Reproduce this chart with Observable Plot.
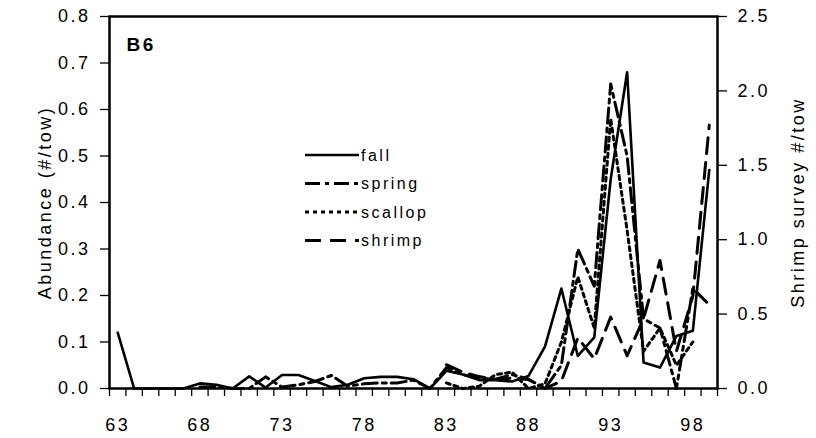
<!DOCTYPE html>
<html>
<head>
<meta charset="utf-8">
<script src="https://cdn.jsdelivr.net/npm/d3@7"></script>
<script src="https://cdn.jsdelivr.net/npm/@observablehq/plot@0.6"></script>
<style>
  html, body { margin: 0; padding: 0; background: white; }
  #wrap { position: relative; width: 816px; height: 438px; }
  #wrap svg text { letter-spacing: 2.5px; }
  #legend { position: absolute; left: 0; top: 0; }
</style>
</head>
<body>
<div id="wrap"></div>
<script>
// ---- data ----
const years = [63,64,65,66,67,68,69,70,71,72,73,74,75,76,77,78,79,80,81,82,83,84,85,86,87,88,89,90,91,92,93,94,95,96,97,98,99];
const fall  = [0.12,0,0,0,0,0.011,0.008,0,0.026,0.002,0.029,0.029,0.016,0.003,0.008,0.022,0.025,0.025,0.02,0,0.038,0.03,0.018,0.018,0.015,0.027,0.09,0.215,0.07,0.11,0.45,0.68,0.056,0.045,0.113,0.124,0.47];

const springYears = [68,69,70,71,72,73,74,75,76,77,78,79,80,81,82,83,84,85,86,87,88,89,90,91,92,93,94,95,96,97,98,99];
const spring = [0.003,0.004,0,0,0.025,0.003,0.008,0.015,0.028,0.005,0.01,0.012,0.012,0.018,0,0.045,0.03,0.022,0.02,0.03,0.02,0.0,0.05,0.30,0.22,0.655,0.5,0.15,0.13,0.0,0.215,0.18];

const scallopYears = [83,84,85,86,87,88,89,90,91,92,93,94,95,96,97,98];
const scallop = [0.012,0,0.005,0.03,0.035,0,0.01,0.1,0.24,0.13,0.58,0.34,0.08,0.13,0.05,0.1];

const shrimpYears = [83,84,85,86,87,88,89,90,91,92,93,94,95,96,97,98,99];
const shrimp = [0.16,0.11,0.08,0.06,0.07,0.06,0,0.05,0.34,0.2,0.48,0.22,0.47,0.86,0.25,0.62,1.77];

const xLabelYears = [63,68,73,78,83,88,93,98];
const leftTicks = [0,0.1,0.2,0.3,0.4,0.5,0.6,0.7,0.8];
const rightTicks = [0,0.5,1.0,1.5,2.0,2.5];
const leftMax = 0.8, rightMax = 2.5;
const ratio = rightMax / leftMax;

const seriesNames = ["fall","spring","scallop","shrimp"];
const seriesDash = {fall: null, spring: "15,5,4,5", scallop: "4,4", shrimp: "16,9"};

// ---- tables built from the arrays ----
const toRows = (ys, vs) => ys.map((y, i) => ({year: y, v: vs[i]}));
const fallRows = toRows(years, fall);
const springRows = toRows(springYears, spring);
const scallopRows = toRows(scallopYears, scallop);
const shrimpRows = toRows(shrimpYears, shrimp);
const boundaries = d3.range(years[0] - 0.5, years[years.length - 1] + 1, 1);

const chart = Plot.plot({
  width: 816,
  height: 438,
  marginLeft: 109,
  marginRight: 99,
  marginTop: 16,
  marginBottom: 50,
  style: {fontFamily: "Liberation Sans, Arial, sans-serif", fontSize: "18px", background: "white", color: "black", overflow: "visible"},
  x: {domain: [years[0] - 0.5, years[years.length - 1] + 0.5]},
  y: {domain: [0, leftMax]},
  marks: [
    Plot.axisX({ticks: boundaries, tickSize: 8, tickFormat: () => "", strokeWidth: 1.3, label: null}),
    Plot.axisX({ticks: xLabelYears, tickSize: 0, tickPadding: 30, tickFormat: d => String(d), label: null}),
    Plot.axisY({ticks: leftTicks, tickSize: 9, tickPadding: 10, strokeWidth: 1.3, tickFormat: d => d.toFixed(1),
      label: "Abundance (#/tow)", labelAnchor: "center", labelArrow: "none", labelOffset: 71}),
    Plot.axisY({anchor: "right", ticks: rightTicks.map(v => v / ratio), tickSize: 9, tickPadding: 11, strokeWidth: 1.3,
      tickFormat: d => (d * ratio).toFixed(1),
      label: "Shrimp survey #/tow", labelAnchor: "center", labelArrow: "none", labelOffset: 86}),
    Plot.frame({stroke: "black", strokeWidth: 2.5}),
    Plot.lineY(fallRows, {x: "year", y: "v", stroke: "black", strokeWidth: 2.6}),
    Plot.lineY(springRows, {x: "year", y: "v", stroke: "black", strokeWidth: 3, strokeDasharray: seriesDash.spring}),
    Plot.lineY(scallopRows, {x: "year", y: "v", stroke: "black", strokeWidth: 3, strokeDasharray: seriesDash.scallop}),
    Plot.lineY(shrimpRows, {x: "year", y: d => d.v / ratio, stroke: "black", strokeWidth: 3, strokeDasharray: seriesDash.shrimp}),
    Plot.text(["B6"], {frameAnchor: "top-left", dx: 17, dy: 28, textAnchor: "start", lineAnchor: "middle", fontWeight: "bold", fontSize: 19})
  ]
});
const wrap = document.getElementById("wrap");
wrap.appendChild(chart);

// ---- legend (inside the plot area) ----
const ns = "http://www.w3.org/2000/svg";
const leg = document.createElementNS(ns, "svg");
leg.setAttribute("id", "legend");
leg.setAttribute("width", 816);
leg.setAttribute("height", 438);
leg.style.fontFamily = "Liberation Sans, Arial, sans-serif";
const legTop = 155, legStep = 28.5;
seriesNames.forEach((name, i) => {
  const y = legTop + i * legStep;
  const ln = document.createElementNS(ns, "line");
  ln.setAttribute("x1", 305); ln.setAttribute("x2", 359);
  ln.setAttribute("y1", y); ln.setAttribute("y2", y);
  ln.setAttribute("stroke", "black");
  ln.setAttribute("stroke-width", name === "fall" ? 2.5 : 3);
  if (seriesDash[name]) ln.setAttribute("stroke-dasharray", seriesDash[name]);
  leg.appendChild(ln);
  const t = document.createElementNS(ns, "text");
  t.setAttribute("x", 361); t.setAttribute("y", y);
  t.setAttribute("dy", "0.35em");
  t.setAttribute("font-size", 16);
  t.textContent = name;
  leg.appendChild(t);
});
wrap.appendChild(leg);
</script>
</body>
</html>
